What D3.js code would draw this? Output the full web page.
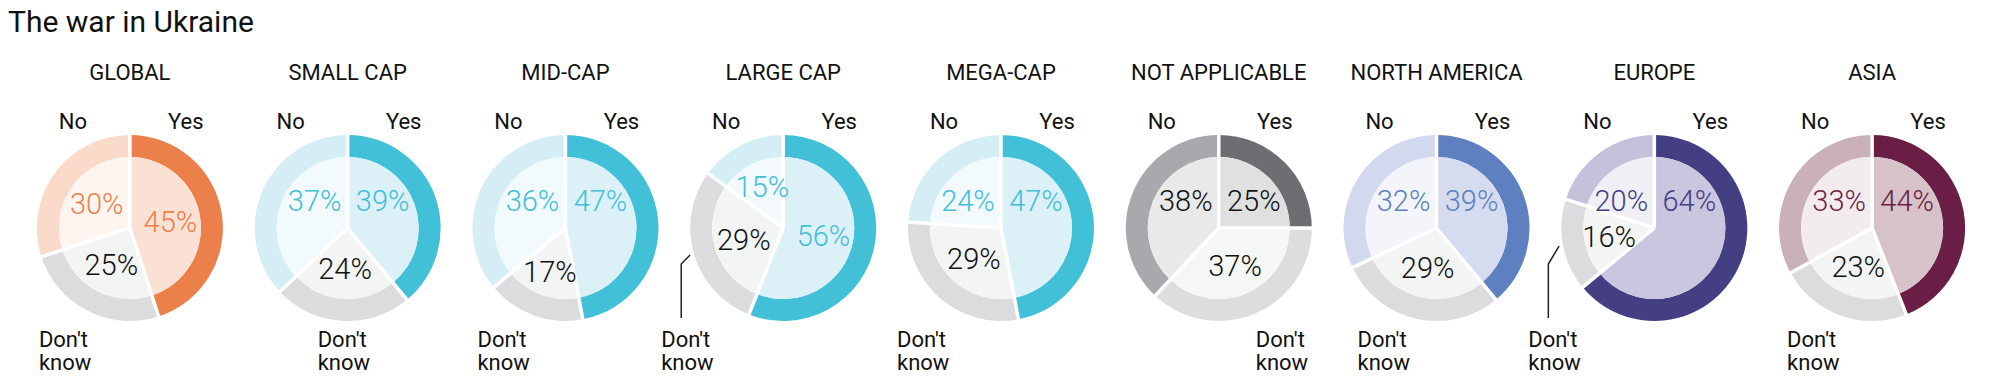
<!DOCTYPE html>
<html>
<head>
<meta charset="utf-8">
<script src="https://cdn.jsdelivr.net/npm/d3@7"></script>
<style>
    body { margin: 0; background: #fff; }
    text { font-family: Roboto, "Noto Sans", sans-serif; fill: #111; }
</style>
</head>
<body>
<div id="chart"></div>
<script>
const SVG_WIDTH = 2000;
const SVG_HEIGHT = 392;
const CENTER_Y = 228;
const OUTER_R = 93;
const RING_R = 71;

// data
const CATEGORIES = ["GLOBAL", "SMALL CAP", "MID-CAP", "LARGE CAP", "MEGA-CAP",
    "NOT APPLICABLE", "NORTH AMERICA", "EUROPE", "ASIA"];
const YES = [45, 39, 47, 56, 47, 25, 39, 64, 44];
const DONT_KNOW = [25, 24, 17, 29, 29, 37, 29, 16, 23];
const NO = [30, 37, 36, 15, 24, 38, 32, 20, 33];
const ANSWERS = ["Yes", "Don't know", "No"];

// styles: [outer yes, inner yes, outer dk, inner dk, outer no, inner no, text]
const ORANGE = ["#ec804a", "#fbe1d3", "#dcdcde", "#f3f4f4", "#fadbc9", "#fef5f0", "#ec804a"];
const BLUE = ["#41c0d8", "#dcf0f7", "#dcdcde", "#f3f4f4", "#d5eef5", "#f3fafd", "#41c0d8"];
const GREY = ["#6d6e71", "#e0e0e1", "#dcdddf", "#f5f6f6", "#a7a9ac", "#e9e9ea", "#111111"];
const NAVY_BLUE = ["#5e80c0", "#d6dcef", "#dcdcde", "#f3f4f4", "#d2d9ee", "#f3f5fb", "#5e80c0"];
const INDIGO = ["#433f82", "#cac6df", "#dcdcde", "#f3f4f4", "#c6c1db", "#f0eff6", "#433f82"];
const PLUM = ["#6a1e45", "#d6c2c8", "#dcdcde", "#f3f4f4", "#c9b0b9", "#f3ecef", "#6a1e45"];
const PALETTES = [ORANGE, BLUE, BLUE, BLUE, BLUE, GREY, NAVY_BLUE, INDIGO, PLUM];

// layout of the labels
const TOP_ROW = [false, true, true, false, true, true, true, true, true];
const DK_LABEL_X = [-91, -30, -88, -122, -104, 37, -79, -126, -85];
const DK_LEADER = [false, false, false, true, false, false, false, true, false];

const pie = d3.pie().sort(null).value(d => d.value);
const outerArc = d3.arc().innerRadius(RING_R).outerRadius(OUTER_R);
const innerArc = d3.arc().innerRadius(0).outerRadius(RING_R);

const getScales = () => {
    const x = d3.scaleBand()
        .domain(CATEGORIES)
        .range([21, 1981]);
    return { x };
};

const drawDonut = (svg, scales, cat, i) => {
    const pal = PALETTES[i];
    const values = [YES[i], DONT_KNOW[i], NO[i]];
    const slices = pie(ANSWERS.map((a, j) => ({ answer: a, value: values[j] })));
    const cx = scales.x(cat) + scales.x.bandwidth() / 2;

    const g = svg.append("g")
        .attr("transform", `translate(${cx},${CENTER_Y})`);

    g.selectAll(".outer")
        .data(slices)
        .enter()
        .append("path")
        .attr("d", outerArc)
        .attr("fill", (d, j) => pal[j * 2]);

    g.selectAll(".inner")
        .data(slices)
        .enter()
        .append("path")
        .attr("d", innerArc)
        .attr("fill", (d, j) => pal[j * 2 + 1]);

    // white separators
    g.selectAll(".sep")
        .data(slices)
        .enter()
        .append("line")
        .attr("x1", 0).attr("y1", 0)
        .attr("x2", d => Math.sin(d.startAngle) * (OUTER_R + 2))
        .attr("y2", d => -Math.cos(d.startAngle) * (OUTER_R + 2))
        .attr("stroke", "#fff")
        .attr("stroke-width", 3.5);

    // percentages
    g.selectAll(".pct")
        .data(slices)
        .enter()
        .append("text")
        .attr("transform", (d, j) => {
            if (TOP_ROW[i] && j === 0) return "translate(35,-27)";
            if (TOP_ROW[i] && j === 2) return "translate(-33,-27)";
            const r = d.data.value < 20 ? 46 : 41;
            const a = (d.startAngle + d.endAngle) / 2;
            return `translate(${Math.sin(a) * r},${-Math.cos(a) * r})`;
        })
        .attr("text-anchor", "middle")
        .attr("dy", "0.36em")
        .style("font-size", "29px")
        .style("font-weight", 300)
        .style("fill", (d, j) => j === 1 ? "#111" : pal[6])
        .text(d => d.data.value + "%");

    // answer names
    g.append("text")
        .attr("x", -57).attr("y", 129 - CENTER_Y)
        .attr("text-anchor", "middle")
        .style("font-size", "22px")
        .text("No");
    g.append("text")
        .attr("x", 56).attr("y", 129 - CENTER_Y)
        .attr("text-anchor", "middle")
        .style("font-size", "22px")
        .text("Yes");

    const dk = g.append("text")
        .attr("x", DK_LABEL_X[i])
        .attr("y", 347 - CENTER_Y)
        .style("font-size", "22px");
    dk.append("tspan").attr("x", DK_LABEL_X[i]).text("Don't");
    dk.append("tspan").attr("x", DK_LABEL_X[i]).attr("dy", 23).text("know");

    if (DK_LEADER[i]) {
        const s = slices[1];
        const a = (s.startAngle + s.endAngle) / 2;
        const lx = DK_LABEL_X[i] + 20;
        g.append("path")
            .attr("d", d3.line()([
                [lx, 318 - CENTER_Y],
                [lx, 264 - CENTER_Y],
                [Math.sin(a) * 97, -Math.cos(a) * 97]
            ]))
            .attr("fill", "none")
            .attr("stroke", "#222")
            .attr("stroke-width", 1.5);
    }

    svg.append("text")
        .attr("x", cx)
        .attr("y", 80)
        .attr("text-anchor", "middle")
        .style("font-size", "22px")
        .text(cat);
};

const drawUkraineDonuts = (containerId) => {
    const container = d3.select("#" + containerId);
    container.html("");

    const svg = container.append("svg")
        .attr("width", SVG_WIDTH)
        .attr("height", SVG_HEIGHT);

    svg.append("text")
        .attr("x", 8)
        .attr("y", 32)
        .style("font-size", "30px")
        .text("The war in Ukraine");

    const scales = getScales();
    CATEGORIES.forEach((cat, i) => drawDonut(svg, scales, cat, i));
};

drawUkraineDonuts("chart");
</script>
</body>
</html>
